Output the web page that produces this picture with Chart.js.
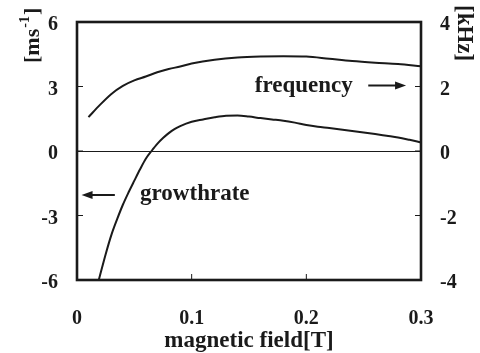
<!DOCTYPE html>
<html>
<head>
<meta charset="utf-8">
<script src="https://cdn.jsdelivr.net/npm/chart.js@4/dist/chart.umd.min.js"></script>
<style>
html,body{margin:0;padding:0;background:#fff;}
#wrap{position:relative;width:480px;height:353px;}
</style>
</head>
<body>
<div id="wrap"><canvas id="c" width="480" height="353"></canvas></div>
<script>
// magnetic field [T]
const freqField = [0.01, 0.02, 0.03, 0.04, 0.05, 0.06, 0.07, 0.08, 0.09, 0.10, 0.12, 0.14, 0.16, 0.18, 0.20, 0.22, 0.24, 0.26, 0.28, 0.30];
// frequency [kHz] (right axis)
const frequency = [1.05, 1.43, 1.77, 2.02, 2.19, 2.31, 2.44, 2.54, 2.62, 2.71, 2.83, 2.90, 2.93, 2.94, 2.93, 2.86, 2.79, 2.74, 2.70, 2.63];

const growthField = [0.019, 0.025, 0.03, 0.035, 0.04, 0.045, 0.05, 0.055, 0.06, 0.065, 0.07, 0.075, 0.08, 0.085, 0.09, 0.10, 0.11, 0.12, 0.13, 0.14, 0.15, 0.16, 0.17, 0.18, 0.19, 0.20, 0.21, 0.22, 0.23, 0.24, 0.25, 0.26, 0.27, 0.28, 0.29, 0.30];
// growth rate [ms^-1] (left axis)
const growthrate = [-6.0, -4.8, -3.9, -3.17, -2.5, -1.92, -1.38, -0.85, -0.36, 0.0, 0.33, 0.6, 0.83, 1.02, 1.16, 1.36, 1.47, 1.57, 1.64, 1.65, 1.60, 1.53, 1.47, 1.41, 1.32, 1.21, 1.13, 1.07, 1.00, 0.93, 0.86, 0.79, 0.71, 0.63, 0.52, 0.40];

const xTicks = [0, 0.1, 0.2, 0.3];
const leftTicks = [-6, -3, 0, 3, 6];
const rightTicks = [-4, -2, 0, 2, 4];

const FONT = '"Liberation Serif", "Times New Roman", serif';
const INK = '#1a1a1a';

function zeroPad(s) { s.paddingTop = 0; s.paddingBottom = 0; s.paddingLeft = 0; s.paddingRight = 0; }

const decor = {
  id: 'decor',
  afterDatasetsDraw(chart) {
    const ctx = chart.ctx;
    const a = chart.chartArea;
    const x = chart.scales.x, y = chart.scales.y, y2 = chart.scales.y2;
    ctx.save();
    // zero line
    ctx.strokeStyle = INK;
    ctx.lineWidth = 1.2;
    ctx.beginPath();
    const yz = Math.round(y.getPixelForValue(0)) + 0.5;
    ctx.moveTo(a.left, yz); ctx.lineTo(a.right, yz); ctx.stroke();
    // inner tick marks
    ctx.lineWidth = 1;
    ctx.beginPath();
    leftTicks.forEach(v => { const p = y.getPixelForValue(v); ctx.moveTo(a.left, p); ctx.lineTo(a.left + 6, p); });
    rightTicks.forEach(v => { const p = y2.getPixelForValue(v); ctx.moveTo(a.right, p); ctx.lineTo(a.right - 6, p); });
    xTicks.forEach(v => { const p = x.getPixelForValue(v); ctx.moveTo(p, a.bottom); ctx.lineTo(p, a.bottom - 6); });
    ctx.stroke();
    // frame
    ctx.lineWidth = 2.6;
    ctx.strokeRect(a.left, a.top, a.right - a.left, a.bottom - a.top);

    // annotations
    ctx.fillStyle = INK;
    ctx.font = 'bold 23px ' + FONT;
    ctx.textBaseline = 'middle';
    ctx.textAlign = 'left';
    ctx.fillText('frequency', x.getPixelForValue(0.155), y2.getPixelForValue(2.0));
    ctx.fillText('growthrate', x.getPixelForValue(0.055), y.getPixelForValue(-2.0));
    function arrow(x1, x2, yy) {
      const dir = Math.sign(x2 - x1);
      ctx.lineWidth = 2;
      ctx.beginPath(); ctx.moveTo(x1, yy); ctx.lineTo(x2 - dir * 8, yy); ctx.stroke();
      ctx.beginPath(); ctx.moveTo(x2, yy); ctx.lineTo(x2 - dir * 11, yy - 4); ctx.lineTo(x2 - dir * 11, yy + 4); ctx.closePath(); ctx.fill();
    }
    arrow(x.getPixelForValue(0.254), x.getPixelForValue(0.287), y2.getPixelForValue(2.0) - 1);
    arrow(x.getPixelForValue(0.033), x.getPixelForValue(0.004), y.getPixelForValue(-2.0) + 1);

    // left axis title [ms^-1], rotated
    ctx.save();
    ctx.translate(39, 63);
    ctx.rotate(-Math.PI / 2);
    ctx.textBaseline = 'alphabetic';
    ctx.font = 'bold 22px ' + FONT;
    let w = 0;
    ctx.fillText('[ms', 0, 0); w += ctx.measureText('[ms').width;
    ctx.font = 'bold 14px ' + FONT;
    ctx.fillText('-1', w + 1, -10); w += ctx.measureText('-1').width + 2;
    ctx.font = 'bold 22px ' + FONT;
    ctx.fillText(']', w, 0);
    ctx.restore();

    // right axis title [kHz], rotated
    ctx.save();
    ctx.translate(458, 5);
    ctx.rotate(Math.PI / 2);
    ctx.textBaseline = 'alphabetic';
    ctx.font = 'bold 23px ' + FONT;
    ctx.fillText('[kHz]', 0, 0);
    ctx.restore();

    // x axis title
    ctx.font = 'bold 23px ' + FONT;
    ctx.textAlign = 'center';
    ctx.textBaseline = 'alphabetic';
    ctx.fillText('magnetic field[T]', (a.left + a.right) / 2, 347);
    ctx.restore();
  }
};

new Chart(document.getElementById('c'), {
  type: 'line',
  data: {
    datasets: [
      {
        label: 'frequency',
        data: freqField.map((b, i) => ({x: b, y: frequency[i]})),
        yAxisID: 'y2',
        borderColor: INK, borderWidth: 2, pointRadius: 0, fill: false,
        cubicInterpolationMode: 'monotone'
      },
      {
        label: 'growthrate',
        data: growthField.map((b, i) => ({x: b, y: growthrate[i]})),
        yAxisID: 'y',
        borderColor: INK, borderWidth: 2, pointRadius: 0, fill: false,
        cubicInterpolationMode: 'monotone'
      }
    ]
  },
  options: {
    responsive: false,
    animation: false,
    clip: false,
    layout: {padding: {top: 22, right: 0, bottom: 0, left: 0}},
    plugins: {legend: {display: false}, tooltip: {enabled: false}},
    scales: {
      x: {
        type: 'linear', min: 0, max: 0.3,
        afterBuildTicks: s => { s.ticks = xTicks.map(v => ({value: v})); },
        afterFit: s => { s.height = 73; zeroPad(s); },
        grid: {display: false, drawTicks: false},
        border: {display: false},
        ticks: {
          padding: 27, color: INK, font: {family: FONT, size: 20, weight: 'bold'},
          maxRotation: 0,
          callback: v => (v === 0 ? '0' : String(Math.round(v * 10) / 10))
        }
      },
      y: {
        type: 'linear', position: 'left', min: -6, max: 6,
        afterBuildTicks: s => { s.ticks = leftTicks.map(v => ({value: v})); },
        afterFit: s => { s.width = 77; zeroPad(s); },
        grid: {display: false, drawTicks: false},
        border: {display: false},
        ticks: {padding: 19, labelOffset: 3, color: INK, font: {family: FONT, size: 20, weight: 'bold'}}
      },
      y2: {
        type: 'linear', position: 'right', min: -4, max: 4,
        afterBuildTicks: s => { s.ticks = rightTicks.map(v => ({value: v})); },
        afterFit: s => { s.width = 59; zeroPad(s); },
        grid: {display: false, drawTicks: false},
        border: {display: false},
        ticks: {padding: 19, labelOffset: 3, color: INK, font: {family: FONT, size: 20, weight: 'bold'}}
      }
    }
  },
  plugins: [decor]
});
</script>
</body>
</html>
